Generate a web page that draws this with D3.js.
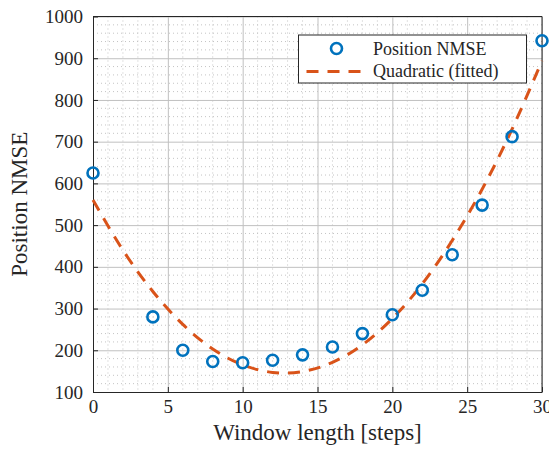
<!DOCTYPE html>
<html>
<head>
<meta charset="utf-8">
<script src="https://cdn.jsdelivr.net/npm/d3@7"></script>
<style>
body{margin:0;background:#fff}
svg text{font-family:"Liberation Serif","DejaVu Serif","Noto Serif",serif !important;fill:#262626}
</style>
</head>
<body>
<div id="chart"></div>
<script>
// measured points
var windowLen=[0,4,6,8,10,12,14,16,18,20,22,24,26,28,30]
var nmse=[625,280,200,173,170,176,189,208,240,285,344,429,548,712,942]
// fitted curve
var fitX=[0,2,4,6,8,10,12,14,16,18,20,22,24,26,28,30]
var fitY=[560,440,341,262,203,165,147,149,171,213,276,359,463,586,730,894]
var xTicks=[0,5,10,15,20,25,30]
var yTicks=[100,200,300,400,500,600,700,800,900,1000]

var W=549,H=456
var margin={top:16.5,left:93,right:7,bottom:64}
var w=W-margin.left-margin.right,h=H-margin.top-margin.bottom

var svg=d3.select("#chart").append("svg").attr("width",W).attr("height",H)
var g=svg.append("g").attr("transform","translate("+margin.left+","+margin.top+")")

var x=d3.scaleLinear().domain([0,30]).range([0,w])
var y=d3.scaleLinear().domain([100,1000]).range([h,0])

// minor grid (dotted)
var xMinor=d3.range(0,31,1).filter(function(d){return d%5!=0})
var yMinor=d3.range(100,1001,20).filter(function(d){return d%100!=0})
g.selectAll(".mx").data(xMinor).enter().append("line")
  .attr("x1",function(d){return x(d)}).attr("x2",function(d){return x(d)})
  .attr("y1",0).attr("y2",h)
  .attr("stroke","#c4c4c4").attr("stroke-width",1).attr("stroke-dasharray","1,3")
g.selectAll(".my").data(yMinor).enter().append("line")
  .attr("y1",function(d){return y(d)}).attr("y2",function(d){return y(d)})
  .attr("x1",0).attr("x2",w)
  .attr("stroke","#c4c4c4").attr("stroke-width",1).attr("stroke-dasharray","1,3")

// major grid
g.append("g").attr("transform","translate(0,"+h+")")
  .call(d3.axisBottom(x).tickValues(xTicks).tickSize(-h).tickFormat(""))
  .call(function(s){s.select(".domain").remove();s.selectAll("line").attr("stroke","#c0c0c0")})
g.append("g")
  .call(d3.axisLeft(y).tickValues(yTicks).tickSize(-w).tickFormat(""))
  .call(function(s){s.select(".domain").remove();s.selectAll("line").attr("stroke","#c0c0c0")})

// axes with inward ticks
var xa=g.append("g").attr("transform","translate(0,"+h+")")
  .call(d3.axisBottom(x).tickValues(xTicks).tickFormat(d3.format("d")).tickSizeInner(-5).tickSizeOuter(0).tickPadding(8))
var ya=g.append("g")
  .call(d3.axisLeft(y).tickValues(yTicks).tickFormat(d3.format("d")).tickSizeInner(-5).tickSizeOuter(0).tickPadding(10))
;[xa,ya].forEach(function(a){
  a.attr("font-family",null)
  a.select(".domain").attr("stroke","#262626")
  a.selectAll("line").attr("stroke","#262626")
  a.selectAll("text").attr("font-size","19px").attr("fill","#262626")
})
// top and right box edges
g.append("line").attr("x1",0).attr("x2",w).attr("y1",0).attr("y2",0).attr("stroke","#262626")
g.append("line").attr("x1",w).attr("x2",w).attr("y1",0).attr("y2",h).attr("stroke","#262626")

// fitted curve
var line=d3.line().x(function(d){return x(d[0])}).y(function(d){return y(d[1])}).curve(d3.curveNatural)
g.append("path").datum(d3.zip(fitX,fitY))
  .attr("d",line).attr("fill","none")
  .attr("stroke","#D95319").attr("stroke-width",3).attr("stroke-dasharray","12,9")

// data circles
g.selectAll(".pt").data(d3.zip(windowLen,nmse)).enter().append("circle")
  .attr("cx",function(d){return x(d[0])}).attr("cy",function(d){return y(d[1])})
  .attr("r",5.5).attr("fill","none").attr("stroke","#0072BD").attr("stroke-width",2.6)

// axis labels
svg.append("text").attr("x",margin.left+w/2).attr("y",440)
  .attr("text-anchor","middle").attr("font-size","23px").text("Window length [steps]")
svg.append("text").attr("transform","translate(27,"+(margin.top+h/2)+") rotate(-90)")
  .attr("text-anchor","middle").attr("font-size","23px").text("Position NMSE")

// legend
var lg=svg.append("g")
lg.append("rect").attr("x",298.5).attr("y",35).attr("width",228).attr("height",48)
  .attr("fill","#fff").attr("stroke","#262626").attr("stroke-width",1)
lg.append("circle").attr("cx",336.5).attr("cy",48.5).attr("r",5.5)
  .attr("fill","none").attr("stroke","#0072BD").attr("stroke-width",2.6)
lg.append("line").attr("x1",306.5).attr("x2",366.5).attr("y1",71.5).attr("y2",71.5)
  .attr("stroke","#D95319").attr("stroke-width",3).attr("stroke-dasharray","12,9")
lg.append("text").attr("x",373).attr("y",55).attr("font-size","18px").text("Position NMSE")
lg.append("text").attr("x",373).attr("y",77).attr("font-size","18px").text("Quadratic (fitted)")
</script>
</body>
</html>
